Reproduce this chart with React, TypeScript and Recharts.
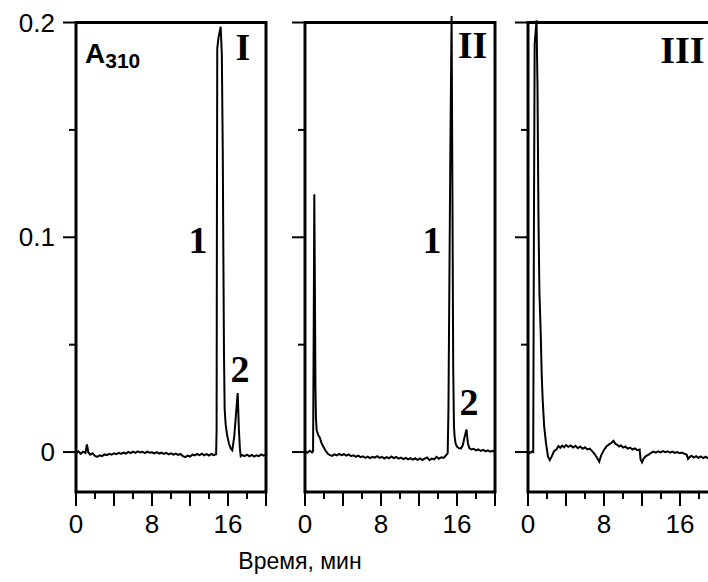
import React from 'react';
import { LineChart, Line, XAxis, YAxis, ReferenceArea, ReferenceDot } from 'recharts';

// chromatogram traces, [time (min), A310]
const traceI: [number, number][] = [
  [0, -0.0005], [0.25, 0.0003], [0.5, -0.0008], [0.75, 0.0002], [1.0, -0.0004], [1.15, 0.0035],
  [1.3, -0.0002], [1.5, -0.0012], [1.75, -0.0006], [2.0, -0.0018], [2.25, -0.0022], [2.5, -0.0015],
  [2.75, -0.0019], [3.0, -0.0011], [3.25, -0.0014], [3.5, -0.0008], [3.75, -0.0012], [4.0, -0.0006],
  [4.25, -0.001], [4.5, -0.0004], [4.75, -0.0009], [5.0, -0.0003], [5.25, -0.0007], [5.5, 0.0001],
  [5.75, -0.0005], [6.0, 0.0002], [6.25, -0.0004], [6.5, 0.0003], [6.75, -0.0002], [7.0, 0.0001],
  [7.25, -0.0005], [7.5, 0.0002], [7.75, -0.0003], [8.0, -0.0001], [8.25, -0.0006], [8.5, 0.0],
  [8.75, -0.0007], [9.0, -0.0003], [9.25, -0.0009], [9.5, -0.0004], [9.75, -0.0011], [10.0, -0.0006],
  [10.25, -0.0012], [10.5, -0.0007], [10.75, -0.0013], [11.0, -0.0009], [11.25, -0.0019], [11.5, -0.0024],
  [11.75, -0.0017], [12.0, -0.0021], [12.25, -0.0012], [12.5, -0.0016], [12.75, -0.0009], [13.0, -0.0014],
  [13.25, -0.0008], [13.5, -0.0015], [13.75, -0.001], [14.0, -0.0016], [14.25, -0.0009], [14.5, -0.0014],
  [14.75, -0.001], [14.8, 0.01], [14.83, 0.1], [14.87, 0.188], [15.0, 0.193], [15.23, 0.198],
  [15.35, 0.185], [15.45, 0.14], [15.5, 0.1], [15.58, 0.045], [15.65, 0.02], [15.75, 0.013],
  [15.9, 0.008], [16.1, 0.004], [16.3, 0.0015], [16.45, 0.0008], [16.65, 0.007], [16.85, 0.018],
  [17.02, 0.0275], [17.15, 0.01], [17.25, 0.002], [17.34, -0.002], [17.5, -0.0014], [17.75, -0.0019],
  [18.0, -0.0012], [18.25, -0.002], [18.5, -0.0013], [18.75, -0.0021], [19.0, -0.0015], [19.25, -0.0019],
  [19.5, -0.0011], [19.75, -0.0017], [20.0, -0.0012],
];

const traceII: [number, number][] = [
  [0, 0.0005], [0.25, -0.0003], [0.5, 0.0006], [0.75, -0.0002], [0.85, 0.0004], [0.92, 0.06],
  [0.98, 0.12], [1.05, 0.07], [1.1, 0.03], [1.15, 0.016], [1.23, 0.01], [1.4, 0.008],
  [1.58, 0.0065], [1.75, 0.004], [1.93, 0.0025], [2.2, 0.0004], [2.4, -0.0008], [2.63, -0.0014],
  [2.85, -0.0018], [3.1, -0.0011], [3.35, -0.0016], [3.6, -0.0009], [3.85, -0.0014], [4.1, -0.001],
  [4.35, -0.0017], [4.6, -0.0011], [4.85, -0.0019], [5.1, -0.0015], [5.35, -0.0022], [5.6, -0.0017],
  [5.85, -0.0024], [6.1, -0.002], [6.35, -0.0027], [6.6, -0.0021], [6.85, -0.0028], [7.1, -0.0022],
  [7.35, -0.0026], [7.6, -0.0019], [7.85, -0.0027], [8.1, -0.0022], [8.35, -0.003], [8.6, -0.0024],
  [8.85, -0.0029], [9.1, -0.0021], [9.35, -0.0028], [9.6, -0.0023], [9.85, -0.0031], [10.1, -0.0026],
  [10.35, -0.0033], [10.6, -0.0027], [10.85, -0.0034], [11.1, -0.0028], [11.35, -0.0035], [11.6, -0.0029],
  [11.85, -0.0036], [12.1, -0.003], [12.35, -0.0037], [12.6, -0.0031], [12.85, -0.0025], [13.1, -0.0038],
  [13.35, -0.003], [13.6, -0.0034], [13.85, -0.0022], [14.1, -0.0031], [14.35, -0.0024], [14.6, -0.0027],
  [14.85, -0.0015], [15.02, -0.0005], [15.1, 0.02], [15.2, 0.08], [15.3, 0.14], [15.43, 0.203],
  [15.52, 0.12], [15.6, 0.04], [15.68, 0.012], [15.75, 0.007], [15.85, 0.004], [16.0, 0.0025],
  [16.2, 0.0018], [16.4, 0.0016], [16.6, 0.003], [16.8, 0.007], [17.0, 0.0105], [17.15, 0.004],
  [17.3, 0.0018], [17.5, 0.0012], [17.75, 0.0015], [18.0, 0.0008], [18.25, 0.0012], [18.5, 0.0005],
  [18.75, 0.001], [19.0, 0.0003], [19.25, 0.0008], [19.5, 0.0002], [19.75, 0.0006], [20.0, 0.0001],
];

const traceIII: [number, number][] = [
  [0, 0.0003], [0.2, -0.0004], [0.4, 0.0002], [0.55, 0.0], [0.62, 0.1], [0.7, 0.19],
  [0.9, 0.201], [1.0, 0.17], [1.1, 0.11], [1.2, 0.075], [1.34, 0.055], [1.45, 0.035],
  [1.55, 0.024], [1.7, 0.012], [1.9, 0.004], [2.1, -0.002], [2.3, -0.0037], [2.5, -0.002],
  [2.75, 0.0005], [3.0, 0.0012], [3.2, 0.0028], [3.4, 0.002], [3.6, 0.003], [3.8, 0.0022],
  [4.0, 0.0032], [4.25, 0.0024], [4.5, 0.0031], [4.75, 0.0021], [5.0, 0.0029], [5.25, 0.0018],
  [5.5, 0.0026], [5.75, 0.0015], [6.0, 0.0022], [6.25, 0.0012], [6.5, 0.0016], [6.75, 0.0004],
  [7.0, -0.0008], [7.25, -0.0025], [7.5, -0.0045], [7.7, -0.0015], [8.0, 0.001], [8.25, 0.0026],
  [8.5, 0.0035], [8.75, 0.0042], [9.0, 0.0052], [9.2, 0.0038], [9.4, 0.0034], [9.6, 0.0026],
  [9.8, 0.0031], [10.0, 0.0021], [10.25, 0.0026], [10.5, 0.0016], [10.75, 0.0021], [11.0, 0.0012],
  [11.25, 0.0017], [11.5, 0.0009], [11.75, 0.0012], [11.85, -0.0035], [12.0, -0.0048], [12.2, -0.0028],
  [12.45, -0.0018], [12.7, -0.0012], [12.95, -0.0004], [13.2, 0.0002], [13.45, -0.0003], [13.7, 0.0003],
  [13.95, -0.0002], [14.2, 0.0004], [14.45, -0.0001], [14.7, 0.0003], [14.95, -0.0003], [15.2, 0.0002],
  [15.45, -0.0004], [15.7, 0.0], [15.95, -0.0005], [16.2, -0.0002], [16.45, -0.0008], [16.7, -0.0012],
  [16.85, -0.0032], [17.0, -0.0024], [17.2, -0.0017], [17.45, -0.0026], [17.7, -0.0019], [17.95, -0.0027],
  [18.2, -0.002], [18.45, -0.0028], [18.7, -0.0022], [18.95, -0.0029], [19.2, -0.0021], [19.45, -0.0027],
  [19.7, -0.002], [20.0, -0.0025],
];

const xTicks = [0, 2, 4, 6, 8, 10, 12, 14, 16, 18, 20];
const xLabeled = [0, 8, 16];
const yTicks = [0, 0.05, 0.1, 0.15, 0.2];
const yLabeled = [0, 0.1, 0.2];

const X_DOMAIN: [number, number] = [0, 20];
const Y_DOMAIN: [number, number] = [-0.0186, 0.2035];

const SANS = '"Liberation Sans", Arial, sans-serif';
const SERIF = '"Liberation Serif", "Times New Roman", serif';

type Note = { text: string; t: number; v: number };

const notesI: Note[] = [
  { text: 'I', t: 17.58, v: 0.1825 },
  { text: '1', t: 12.84, v: 0.0926 },
  { text: '2', t: 17.26, v: 0.0326 },
];
const notesII: Note[] = [
  { text: 'II', t: 17.63, v: 0.1834 },
  { text: '1', t: 13.37, v: 0.0926 },
  { text: '2', t: 17.26, v: 0.0172 },
];
const notesIII: Note[] = [{ text: 'III', t: 16.26, v: 0.181 }];

const renderXTick = (props: any) => {
  const { x, y, payload } = props;
  const v = payload.value as number;
  const major = v % 4 === 0;
  return (
    <g>
      <line x1={x} y1={y} x2={x} y2={y + (major ? 14 : 7)} stroke="#000" strokeWidth={2} />
      {xLabeled.includes(v) && (
        <text x={x} y={y + 41} textAnchor="middle" fontSize={26} fontFamily={SANS} fill="#000">
          {v}
        </text>
      )}
    </g>
  );
};

const makeYTick = (withLabels: boolean) => (props: any) => {
  const { x, y, payload } = props;
  const v = payload.value as number;
  const major = yLabeled.includes(v);
  return (
    <g>
      <line x1={x - (major ? 13 : 7)} y1={y} x2={x} y2={y} stroke="#000" strokeWidth={2} />
      {withLabels && major && (
        <text x={x - 21} y={y + 9} textAnchor="end" fontSize={26} fontFamily={SANS} fill="#000">
          {String(v)}
        </text>
      )}
    </g>
  );
};

const AXIS_W = 60;

function Panel({
  trace,
  notes,
  width,
  left,
  right,
  withLabels,
  showA,
}: {
  trace: [number, number][];
  notes: Note[];
  width: number;
  left: number;
  right: number;
  withLabels: boolean;
  showA?: boolean;
}) {
  const data = trace.map(([t, a]) => ({ t, a }));
  return (
    <LineChart width={width} height={582} data={data} margin={{ top: 15, right, bottom: 60, left }}>
      <XAxis
        dataKey="t"
        type="number"
        domain={X_DOMAIN}
        ticks={xTicks}
        interval={0}
        axisLine={false}
        tickLine={false}
        tickSize={0}
        tickMargin={0}
        height={30}
        tick={renderXTick}
      />
      <YAxis
        type="number"
        domain={Y_DOMAIN}
        allowDataOverflow
        ticks={yTicks}
        interval={0}
        axisLine={false}
        tickLine={false}
        tickSize={0}
        tickMargin={0}
        width={AXIS_W}
        tick={makeYTick(withLabels)}
      />
      <ReferenceArea x1={0} x2={20} y1={Y_DOMAIN[0]} y2={0.2} fill="none" stroke="#000" strokeWidth={3} />
      <Line
        dataKey="a"
        type="linear"
        stroke="#000"
        strokeWidth={2}
        dot={false}
        isAnimationActive={false}
      />
      {notes.map((n, i) => (
        <ReferenceDot
          key={i}
          x={n.t}
          y={n.v}
          r={0}
          shape={(p: any) => (
            <text
              x={p.cx}
              y={p.cy}
              textAnchor="middle"
              fontSize={38}
              fontWeight="bold"
              fontFamily={SERIF}
              fill="#000"
            >
              {n.text}
            </text>
          )}
        />
      ))}
      {showA && (
        <ReferenceDot
          x={0.95}
          y={0.181}
          r={0}
          shape={(p: any) => (
            <text x={p.cx} y={p.cy} fontFamily={SANS} fontWeight="bold" fill="#000">
              <tspan fontSize={28}>A</tspan>
              <tspan fontSize={21} dy={5}>310</tspan>
            </text>
          )}
        />
      )}
    </LineChart>
  );
}

export default function App() {
  return (
    <div
      style={{
        position: 'absolute',
        left: 0,
        top: 0,
        width: 708,
        height: 582,
        overflow: 'hidden',
        background: '#fff',
      }}
    >
      <div style={{ position: 'absolute', left: 0, top: 0 }}>
        <Panel trace={traceI} notes={notesI} width={290} left={16} right={24} withLabels showA />
      </div>
      <div style={{ position: 'absolute', left: 245, top: 0 }}>
        <Panel trace={traceII} notes={notesII} width={275} left={0} right={25} withLabels={false} />
      </div>
      <div style={{ position: 'absolute', left: 468, top: 0 }}>
        <Panel trace={traceIII} notes={notesIII} width={277} left={0} right={27} withLabels={false} />
      </div>
      <div
        style={{
          position: 'absolute',
          left: 0,
          top: 547,
          width: 600,
          textAlign: 'center',
          fontFamily: SANS,
          fontSize: 23,
          lineHeight: '28px',
          color: '#000',
        }}
      >
        Время, мин
      </div>
    </div>
  );
}
